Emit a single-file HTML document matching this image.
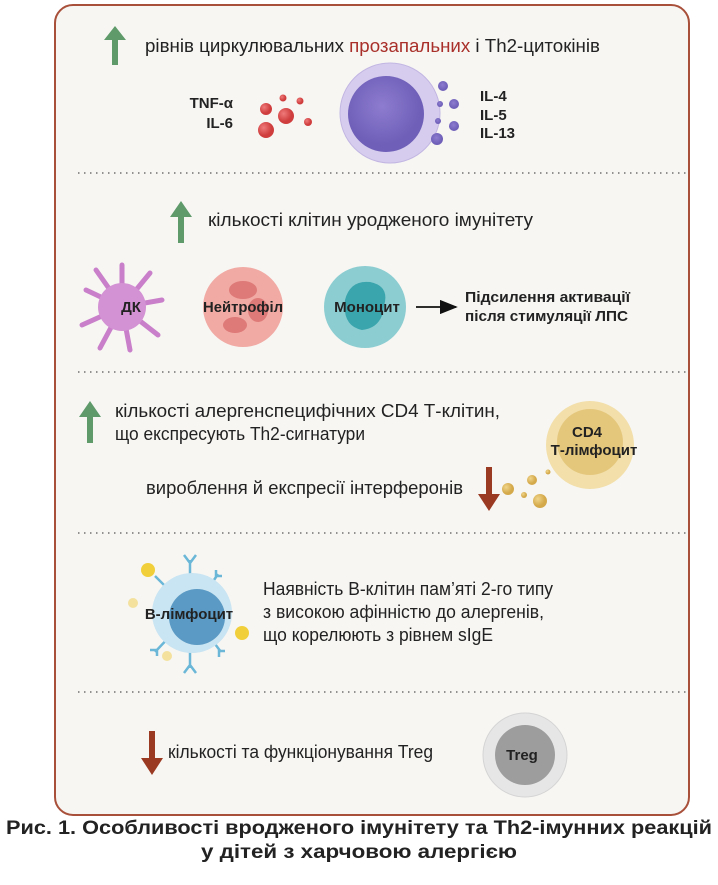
<!DOCTYPE html>
<html><head><meta charset="utf-8"><style>
body{margin:0;background:#fff;}
svg{display:block;font-family:"Liberation Sans",sans-serif;}
</style></head><body>
<svg width="718" height="885" viewBox="0 0 718 885" xmlns="http://www.w3.org/2000/svg">
<defs>
<radialGradient id="pur" cx="45%" cy="40%"><stop offset="0" stop-color="#8d7ccf"/><stop offset="1" stop-color="#6f5fb8"/></radialGradient>
<radialGradient id="red" cx="35%" cy="35%"><stop offset="0" stop-color="#ef7a7a"/><stop offset="1" stop-color="#cf3d3d"/></radialGradient>
<radialGradient id="gold" cx="35%" cy="35%"><stop offset="0" stop-color="#f0d58a"/><stop offset="1" stop-color="#d4a94a"/></radialGradient>
<marker id="ah" markerWidth="10" markerHeight="8" refX="9" refY="4" orient="auto"><path d="M0,0 L10,4 L0,8z" fill="#111"/></marker>
</defs>
<rect x="55" y="5" width="634" height="810" rx="18" fill="#f7f6f3" stroke="#a9503a" stroke-width="2"/>
<g stroke="#555" stroke-width="1.2" stroke-dasharray="1.5 4.5">
<line x1="78" y1="173" x2="690" y2="173"/><line x1="78" y1="372" x2="690" y2="372"/>
<line x1="78" y1="533" x2="690" y2="533"/><line x1="78" y1="692" x2="690" y2="692"/>
</g>
<g fill="#5e9a6a">
<path d="M112,65 v-25 h-8 l11,-14 l11,14 h-8 v25z"/>
<path d="M178,243 v-26 h-8 l11,-16 l11,16 h-8 v26z"/>
<path d="M87,443 v-26 h-8 l11,-16 l11,16 h-8 v26z"/>
</g>
<g fill="#9b3a22">
<path d="M486,467 v27 h-8 l11,17 l11,-17 h-8 v-27z"/>
<path d="M149,731 v27 h-8 l11,17 l11,-17 h-8 v-27z"/>
</g>
<g font-size="18" fill="#222" lengthAdjust="spacingAndGlyphs">
<text x="145" y="52" textLength="455" lengthAdjust="spacingAndGlyphs">рівнів циркулювальних <tspan fill="#a9302a">прозапальних</tspan> і Th2-цитокінів</text>
<text x="208" y="226" textLength="325" lengthAdjust="spacingAndGlyphs">кількості клітин уродженого імунітету</text>
<text x="115" y="417" textLength="385" lengthAdjust="spacingAndGlyphs">кількості алергенспецифічних CD4 Т-клітин,</text>
<text x="115" y="440" textLength="250" lengthAdjust="spacingAndGlyphs">що експресують Th2-сигнатури</text>
<text x="146" y="494" textLength="317" lengthAdjust="spacingAndGlyphs">вироблення й експресії інтерферонів</text>
<text x="263" y="595" textLength="290" lengthAdjust="spacingAndGlyphs">Наявність В-клітин пам’яті 2-го типу</text>
<text x="263" y="618" textLength="281" lengthAdjust="spacingAndGlyphs">з високою афінністю до алергенів,</text>
<text x="263" y="641" textLength="230" lengthAdjust="spacingAndGlyphs">що корелюють з рівнем sIgE</text>
<text x="168" y="758" textLength="265" lengthAdjust="spacingAndGlyphs">кількості та функціонування Treg</text>
</g>
<g fill="url(#red)">
<circle cx="266" cy="109" r="6"/><circle cx="286" cy="116" r="8"/><circle cx="266" cy="130" r="8"/>
<circle cx="283" cy="98" r="3.5"/><circle cx="300" cy="101" r="3.5"/><circle cx="308" cy="122" r="4"/>
</g>
<circle cx="390" cy="113" r="50" fill="#d6cdee" stroke="#c2b6e2"/>
<circle cx="386" cy="114" r="38" fill="url(#pur)"/>
<g fill="url(#pur)">
<circle cx="443" cy="86" r="5"/><circle cx="440" cy="104" r="3"/><circle cx="454" cy="104" r="5"/>
<circle cx="438" cy="121" r="3"/><circle cx="454" cy="126" r="5"/><circle cx="437" cy="139" r="6"/>
</g>
<g font-size="15" font-weight="bold" fill="#222">
<text x="233" y="108" text-anchor="end">TNF-α</text><text x="233" y="128" text-anchor="end">IL-6</text>
<text x="480" y="101">IL-4</text><text x="480" y="120">IL-5</text><text x="480" y="138">IL-13</text>
</g>
<g stroke="#c97fc9" stroke-width="5" stroke-linecap="round">
<line x1="122" y1="307" x2="122" y2="265"/><line x1="122" y1="307" x2="150" y2="273"/><line x1="122" y1="307" x2="162" y2="300"/>
<line x1="122" y1="307" x2="158" y2="335"/><line x1="122" y1="307" x2="130" y2="350"/><line x1="122" y1="307" x2="100" y2="348"/>
<line x1="122" y1="307" x2="82" y2="325"/><line x1="122" y1="307" x2="86" y2="290"/><line x1="122" y1="307" x2="96" y2="270"/>
</g>
<circle cx="122" cy="307" r="24" fill="#d392d3"/>
<circle cx="243" cy="307" r="40" fill="#f1aaa4"/>
<g fill="#de7a78"><ellipse cx="243" cy="290" rx="14" ry="9"/><ellipse cx="258" cy="310" rx="10" ry="12"/><ellipse cx="235" cy="325" rx="12" ry="8"/></g>
<circle cx="365" cy="307" r="41" fill="#8ccdd1"/>
<path d="M345,300 q5,-20 25,-18 q20,4 14,24 q-2,22 -22,24 q-20,-4 -17,-30z" fill="#3aa5ad"/>
<g font-size="15" font-weight="bold" fill="#222" text-anchor="middle">
<text x="131" y="312">ДК</text><text x="243" y="312" textLength="80" lengthAdjust="spacingAndGlyphs">Нейтрофіл</text><text x="367" y="312">Моноцит</text>
</g>
<line x1="416" y1="307" x2="456" y2="307" stroke="#111" stroke-width="1.8" marker-end="url(#ah)"/>
<g font-size="15" font-weight="bold" fill="#222">
<text x="465" y="302" textLength="165" lengthAdjust="spacingAndGlyphs">Підсилення активації</text><text x="465" y="321" textLength="163" lengthAdjust="spacingAndGlyphs">після стимуляції ЛПС</text>
</g>
<circle cx="590" cy="445" r="44" fill="#f2dfaa"/>
<circle cx="590" cy="442" r="33" fill="#e5c77c"/>
<g fill="url(#gold)">
<circle cx="532" cy="480" r="5"/><circle cx="524" cy="495" r="3"/><circle cx="540" cy="501" r="7"/>
<circle cx="548" cy="472" r="2.5"/><circle cx="508" cy="489" r="6"/>
</g>
<g font-size="15" font-weight="bold" fill="#222" text-anchor="middle">
<text x="587" y="437">CD4</text><text x="594" y="455">Т-лімфоцит</text>
</g>
<g stroke="#6ab7d8" stroke-width="2.5" fill="none">
<path d="M190,613 L190,560 M184,555 l6,8 l6,-8"/><path d="M190,613 L190,668 M184,673 l6,-8 l6,8"/>
<path d="M192,613 L218,574 M216,570 v6 h6"/><path d="M192,613 L221,652 M219,657 v-6 h6"/>
<path d="M192,613 L155,652 M150,650 h7 v6"/><path d="M192,613 L155,576"/>
</g>
<circle cx="192" cy="613" r="40" fill="#c9e4f2"/>
<circle cx="197" cy="617" r="28" fill="#5b9ac4"/>
<g fill="#f1cf3a"><circle cx="148" cy="570" r="7"/><circle cx="242" cy="633" r="7"/></g>
<g fill="#f3e19d"><circle cx="133" cy="603" r="5"/><circle cx="167" cy="656" r="5"/></g>
<text x="189" y="619" font-size="15" font-weight="bold" fill="#222" text-anchor="middle">В-лімфоцит</text>
<circle cx="525" cy="755" r="42" fill="#e6e6e6" stroke="#d4d4d4"/>
<circle cx="525" cy="755" r="30" fill="#9d9d9d"/>
<text x="522" y="760" font-size="15" font-weight="bold" fill="#222" text-anchor="middle">Treg</text>
<g font-size="19" font-weight="bold" fill="#222" text-anchor="middle">
<text x="359" y="834" textLength="706" lengthAdjust="spacingAndGlyphs">Рис. 1. Особливості вродженого імунітету та Th2-імунних реакцій</text>
<text x="359" y="858" textLength="316" lengthAdjust="spacingAndGlyphs">у дітей з харчовою алергією</text>
</g>
</svg>
</body></html>
